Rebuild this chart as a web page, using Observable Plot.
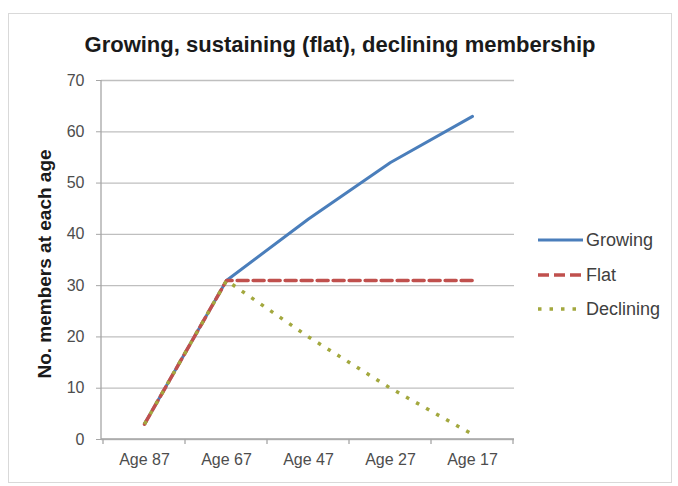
<!DOCTYPE html>
<html><head><meta charset="utf-8">
<script src="https://cdn.jsdelivr.net/npm/d3@7"></script>
<script src="https://cdn.jsdelivr.net/npm/@observablehq/plot@0.6"></script>
<style>
body{margin:0;background:#fff;font-family:"Liberation Sans",Arial,sans-serif;}
#frame{position:absolute;left:8px;top:13px;width:662px;height:468px;border:1px solid #d9d9d9;background:#fff;}
#title{position:absolute;left:0;top:18px;width:100%;text-align:center;font-weight:bold;font-size:22px;line-height:26px;color:#1a1a1a;}
#chart{position:absolute;left:0;top:46px;}
#ylabel{position:absolute;left:36px;top:250px;transform:translate(-50%,-50%) rotate(-90deg);white-space:nowrap;font-weight:bold;font-size:19px;color:#1a1a1a;}
.leg{position:absolute;left:528px;height:24px;display:flex;align-items:center;font-size:18px;color:#404040;}
.leg svg{margin-right:1px;}
</style></head>
<body>
<div id="frame">
  <div id="title">Growing, sustaining (flat), declining membership</div>
  <div id="chart"></div>
  <div id="ylabel">No. members at each age</div>
  <div id="legend"></div>
</div>
<script>
const categories = ["Age 87", "Age 67", "Age 47", "Age 27", "Age 17"];
const growing   = [3, 31, 43, 54, 63];
const flat      = [3, 31, 31, 31, 31];
const declining = [3, 31, 20, 10, 1];
const seriesNames = ["Growing", "Flat", "Declining"];
const yTicks = [0, 10, 20, 30, 40, 50, 60, 70];

const colors = {Growing: "#4a7ebb", Flat: "#c0504d", Declining: "#a3a83e"};
const dashes = {Growing: null, Flat: "11 5", Declining: "3.5 8"};
const widths = {Growing: 3, Flat: 3.5, Declining: 3.5};

const seriesValues = {Growing: growing, Flat: flat, Declining: declining};
const rows = seriesNames.flatMap(s => categories.map((c, i) => ({series: s, cat: c, value: seriesValues[s][i]})));

function boundaryTicks(index, scales, values, dimensions) {
  const x = scales.x, y = scales.y;
  const g = d3.create("svg:g");
  const y0 = y(0);
  const bw = x.bandwidth ? x.bandwidth() : 0;
  const edges = categories.map(c => x(c)).concat([x(categories[categories.length - 1]) + bw]);
  g.append("line").attr("x1", dimensions.marginLeft).attr("x2", dimensions.marginLeft)
    .attr("y1", y(70)).attr("y2", y0).attr("stroke", "#a6a6a6").attr("stroke-width", 1.3);
  g.append("line").attr("x1", dimensions.marginLeft).attr("x2", dimensions.width - dimensions.marginRight)
    .attr("y1", y0).attr("y2", y0).attr("stroke", "#a6a6a6").attr("stroke-width", 1.3);
  for (const e of edges) {
    g.append("line").attr("x1", e).attr("x2", e).attr("y1", y0).attr("y2", y0 + 5)
      .attr("stroke", "#a6a6a6").attr("stroke-width", 1.3);
  }
  return g.node();
}

const chart = Plot.plot({
  width: 662,
  height: 420,
  marginLeft: 92,
  marginRight: 157,
  marginTop: 20,
  marginBottom: 41,
  style: {fontFamily: "'Liberation Sans', Arial, sans-serif", fontSize: "16px", color: "#404040", background: "transparent"},
  x: {type: "band", domain: categories, padding: 0, label: null},
  y: {domain: [0, 70], label: null},
  marks: [
    Plot.gridY(yTicks, {stroke: "#bfbfbf", strokeOpacity: 1, strokeWidth: 1.3}),
    Plot.axisY(yTicks, {tickSize: 5, tickPadding: 12, stroke: "#a6a6a6", label: null, fontSize: 16, fill: "#4d4d4d"}),
    Plot.axisX({tickSize: 0, tickPadding: 14, label: null, fontSize: 16, fill: "#4d4d4d"}),
    boundaryTicks,
    ...seriesNames.map(s => Plot.line(rows.filter(r => r.series === s), {
      x: "cat", y: "value",
      stroke: colors[s], strokeWidth: widths[s],
      strokeDasharray: dashes[s] || undefined,
      strokeLinecap: s === "Declining" ? "butt" : "round",
      strokeLinejoin: "round"
    }))
  ]
});
document.getElementById("chart").appendChild(chart);

const legend = document.getElementById("legend");
const legY = {Growing: 214, Flat: 249, Declining: 283};
for (const s of seriesNames) {
  const d = document.createElement("div");
  d.className = "leg";
  d.style.top = legY[s] + "px";
  d.innerHTML = `<svg width="48" height="10"><line x1="1" x2="46" y1="5" y2="5" stroke="${colors[s]}" stroke-width="${widths[s]}" ${dashes[s] ? `stroke-dasharray="${dashes[s]}"` : ""}/></svg><span>${s}</span>`;
  legend.appendChild(d);
}
</script>
</body></html>
